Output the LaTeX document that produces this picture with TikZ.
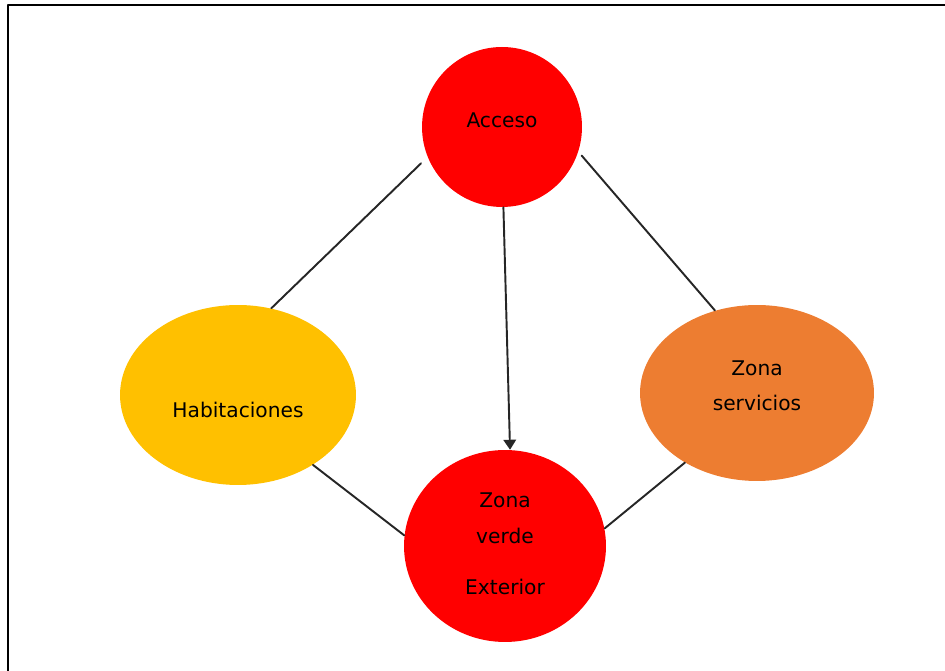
\documentclass[tikz,border=0pt]{standalone}
\usepackage{fontspec}
\setmainfont{DejaVu Sans}
\usepackage{xcolor}
\usetikzlibrary{arrows.meta,shapes.geometric}
\definecolor{rojo}{HTML}{FF0000}
\definecolor{amarillo}{HTML}{FFC000}
\definecolor{naranja}{HTML}{ED7D31}
\tikzset{
  zona/.style={ellipse,draw=none,inner sep=0pt},
  enlace/.style={line width=1.1pt,black!85},
  rotulo/.style={font=\fontsize{11.5}{13}\selectfont,inner sep=0pt}
}

\begin{document}
\begin{tikzpicture}[line cap=round,line join=round,x=0.02cm,y=0.02cm]
        \useasboundingbox (0,0) rectangle (945,671);
        % marco
        \draw [line width=1.4pt] (8,0)-- (8,666)-- (945,666);
        % zonas
        \node [zona,fill=rojo,minimum width=3.2cm,minimum height=3.2cm] (acc) at (502,544) {};
        \node [zona,fill=amarillo,minimum width=4.72cm,minimum height=3.6cm] (hab) at (238,276) {};
        \node [zona,fill=naranja,minimum width=4.68cm,minimum height=3.52cm] (serv) at (757,278) {};
        \node [zona,fill=rojo,minimum width=4.04cm,minimum height=3.84cm] (verde) at (505,125) {};
        % textos
        \node [rotulo] (acc-t) at (502,551) {Acceso};
        \node [rotulo] (hab-t) at (238,261) {Habitaciones};
        \node [rotulo] (serv-t1) at (757,303) {Zona};
        \node [rotulo] (serv-t2) at (757,268) {servicios};
        \node [rotulo] (verde-t1) at (505,171) {Zona};
        \node [rotulo] (verde-t2) at (505,135) {verde};
        \node [rotulo] (verde-t3) at (505,84) {Exterior};
        % enlaces
        \draw [enlace,shorten <=0.18cm] (acc.202)-- (hab.69);
        \draw [enlace,shorten <=0.1cm] (acc.-18)-- (serv.117);
        \draw [enlace] (hab.-43)-- (verde.174);
        \draw [enlace] (serv.224)-- (verde.10);
        \draw [enlace,-{Triangle[length=2mm,width=2.5mm]}] (acc.271)-- (verde.87);
\end{tikzpicture}
\end{document}
